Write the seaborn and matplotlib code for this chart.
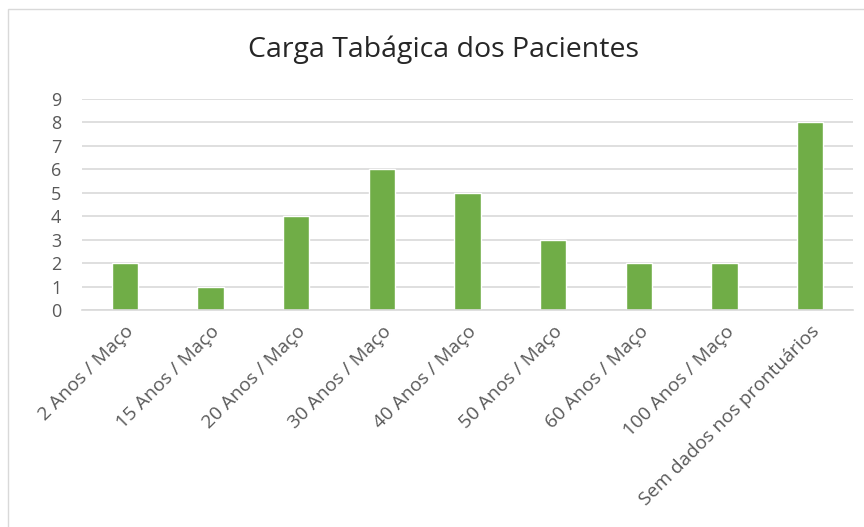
import numpy as np
import pandas as pd
import matplotlib.pyplot as plt
import seaborn as sns
from matplotlib.patches import Rectangle

# data
CATEGORIES = ['2 Anos / Maço', '15 Anos / Maço', '20 Anos / Maço',
              '30 Anos / Maço', '40 Anos / Maço', '50 Anos / Maço',
              '60 Anos / Maço', '100 Anos / Maço', 'Sem dados nos prontuários']
VALUES = [2, 1, 4, 6, 5, 3, 2, 2, 8]
TITLE = 'Carga Tabágica dos Pacientes'

GREEN = '#70AD47'
GRID = '#D9D9D9'
TEXT = '#595959'

sns.set_style('white')
plt.rcParams['font.family'] = ['Open Sans', 'DejaVu Sans']

df = pd.DataFrame({'cat': CATEGORIES, 'val': VALUES})

fig = plt.figure(figsize=(8.64, 5.27), dpi=100)
ax = fig.add_axes([82/864, 1-310/527, (853-82)/864, (310-99)/527])

sns.barplot(data=df, x='cat', y='val', color=GREEN, width=0.31,
            saturation=1, ax=ax)

ax.set_ylim(0, 9)
ax.set_yticks(range(0, 10))
ax.yaxis.grid(True, color=GRID, linewidth=1.2)
ax.set_axisbelow(True)
for s in ['top', 'right', 'left']:
    ax.spines[s].set_visible(False)
ax.spines['bottom'].set_color(GRID)
ax.spines['bottom'].set_linewidth(1.2)
ax.tick_params(axis='both', length=0, colors=TEXT)
ax.tick_params(axis='y', pad=15, labelsize=13)
ax.tick_params(axis='x', pad=9, labelsize=13.8)
ax.set_xlabel('')
ax.set_ylabel('')
plt.setp(ax.get_xticklabels(), rotation=45, ha='right',
         rotation_mode='anchor')

fig.text(0.513, 1-50/527, TITLE, ha='center', va='center', fontsize=20.5,
         color='#262626')

# chart frame
fig.patches.append(Rectangle((8/864, -0.05), 1.1, 1-9/527+0.05,
                             transform=fig.transFigure, fill=False,
                             edgecolor=GRID, linewidth=1))

fig.savefig('out.png', dpi=100)
